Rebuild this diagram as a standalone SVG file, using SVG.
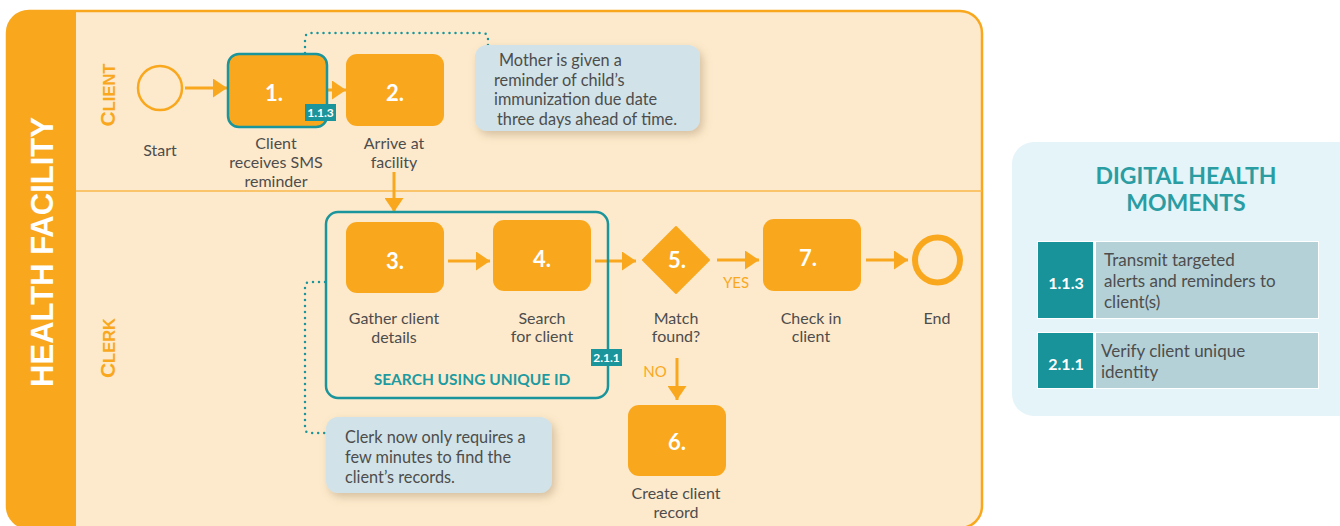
<svg xmlns="http://www.w3.org/2000/svg" width="1340" height="526" viewBox="0 0 1340 526">
<defs>
<style>
.lbl{font-family:Lato,"Open Sans",sans-serif;font-size:16px;fill:#4d4d4d;text-anchor:middle}
.num{font-family:Lato,"Open Sans",sans-serif;font-size:22px;font-weight:bold;fill:#fff;text-anchor:middle}
.box{fill:#f9a81e}
.flow{stroke:#f9a81e;stroke-width:3;fill:none}
.dot{stroke:#1a959c;stroke-width:2.5;fill:none;stroke-dasharray:0 6;stroke-linecap:round}
.note{fill:#d1e3e8}
.ntxt{font-family:Lato,"Open Sans",sans-serif;font-size:16.3px;fill:#4d4d4d}
.badge{fill:#1a959c}
.btxt{font-family:Lato,"Open Sans",sans-serif;font-size:12px;font-weight:bold;fill:#fff;text-anchor:middle}
.lane{font-family:"Liberation Sans",Arial,sans-serif;font-weight:bold;fill:#f9a81e}
.yn{font-family:Lato,"Open Sans",sans-serif;font-size:15px;fill:#f9a81e;text-anchor:middle}
.ptxt{font-family:Lato,"Open Sans",sans-serif;font-size:17px;fill:#4d4d4d}
.ttl{font-family:Lato,"Open Sans",sans-serif;font-weight:bold;font-size:23px;fill:#2a9da3;text-anchor:middle}
</style>
<marker id="ah" markerUnits="userSpaceOnUse" markerWidth="14" markerHeight="19" refX="14" refY="9.5" orient="auto">
<path d="M0,0 L14,9.5 L0,19 Z" fill="#f9a81e"/>
</marker>
<filter id="sh" x="-10%" y="-20%" width="125%" height="150%">
<feDropShadow dx="3" dy="4" stdDeviation="4" flood-color="#8a7250" flood-opacity="0.35"/>
</filter>
</defs>

<g id="frame">
<rect x="7" y="11" width="975" height="517" rx="22" fill="#fdeacc"/>
<path d="M7,33 A22,22 0 0 1 29,11 L76,11 L76,528 L29,528 A22,22 0 0 1 7,506 Z" fill="#f9a81e"/>
<rect x="7" y="11" width="975" height="517" rx="22" fill="none" stroke="#f9a81e" stroke-width="2.5"/>
<line x1="76" y1="191" x2="982" y2="191" stroke="#f9b84a" stroke-width="1.5"/>
<text transform="translate(53,252) rotate(-90)" text-anchor="middle" font-family="'Liberation Sans',Arial,sans-serif" font-weight="bold" font-size="31" fill="#fff">HEALTH FACILITY</text>
<text class="lane" transform="translate(115,95) rotate(-90)" text-anchor="middle"><tspan font-size="21">C</tspan><tspan font-size="16.5">LIENT</tspan></text>
<text class="lane" transform="translate(115,348) rotate(-90)" text-anchor="middle"><tspan font-size="21">C</tspan><tspan font-size="16.5">LERK</tspan></text>
</g>

<g id="panel">
<rect x="1012" y="142" width="350" height="274" rx="22" fill="#e4f4f8"/>
<text class="ttl" x="1186" y="184">DIGITAL HEALTH</text>
<text class="ttl" x="1186" y="211">MOMENTS</text>
<rect x="1037" y="241" width="282" height="78" fill="#fff"/>
<rect x="1038" y="242" width="55" height="76" fill="#179399"/>
<rect x="1096" y="242" width="222" height="76" fill="#b4d1d7"/>
<text x="1066" y="289" text-anchor="middle" font-family="Lato,'Open Sans',sans-serif" font-weight="bold" font-size="16" fill="#fff">1.1.3</text>
<text class="ptxt" x="1104" y="266">Transmit targeted</text>
<text class="ptxt" x="1104" y="287">alerts and reminders to</text>
<text class="ptxt" x="1104" y="308">client(s)</text>
<rect x="1037" y="332" width="282" height="57" fill="#fff"/>
<rect x="1038" y="333" width="55" height="55" fill="#179399"/>
<rect x="1096" y="333" width="222" height="55" fill="#b4d1d7"/>
<text x="1066" y="370" text-anchor="middle" font-family="Lato,'Open Sans',sans-serif" font-weight="bold" font-size="16" fill="#fff">2.1.1</text>
<text class="ptxt" x="1101" y="357">Verify client unique</text>
<text class="ptxt" x="1101" y="378">identity</text>
</g>

<g id="connectors">
<line class="flow" x1="185" y1="88" x2="227" y2="88" marker-end="url(#ah)"/>
<line class="flow" x1="327" y1="90" x2="346" y2="90" marker-end="url(#ah)"/>
<line class="flow" x1="394" y1="172" x2="394" y2="212" marker-end="url(#ah)"/>
<line class="flow" x1="448" y1="261" x2="490" y2="261" marker-end="url(#ah)"/>
<line class="flow" x1="595" y1="261" x2="636" y2="261" marker-end="url(#ah)"/>
<line class="flow" x1="717" y1="260" x2="759" y2="260" marker-end="url(#ah)"/>
<line class="flow" x1="866" y1="260" x2="908" y2="260" marker-end="url(#ah)"/>
<line class="flow" x1="677" y1="358" x2="677" y2="400" marker-end="url(#ah)"/>
<text class="yn" x="736" y="288">YES</text>
<text class="yn" x="655" y="377">NO</text>
<path class="dot" d="M305,53 L305,39 Q305,33 311,33 L482,33 Q488,33 488,39 L488,55"/>
<path class="dot" d="M325,282 L310,282 Q305,282 305,287 L305,428 Q305,433 310,433 L333,433"/>
</g>

<g id="start">
<circle cx="160" cy="88" r="22" fill="none" stroke="#f9a81e" stroke-width="2.5"/>
<text class="lbl" x="160" y="156">Start</text>
</g>

<g id="n1">
<rect x="228" y="54" width="99" height="73" rx="11" class="box" stroke="#1a959c" stroke-width="2.5"/>
<text class="num" x="274" y="101">1.</text>
<rect x="305" y="104" width="31" height="17" class="badge"/>
<text class="btxt" x="320.5" y="117">1.1.3</text>
<text class="lbl" x="276" y="149">Client</text>
<text class="lbl" x="276" y="168">receives SMS</text>
<text class="lbl" x="276" y="187">reminder</text>
</g>

<g id="n2">
<rect x="346" y="54" width="98" height="72" rx="11" class="box"/>
<text class="num" x="395" y="101">2.</text>
<text class="lbl" x="394" y="149">Arrive at</text>
<text class="lbl" x="394" y="168">facility</text>
</g>

<g id="note1">
<rect x="475" y="45" width="225" height="86" rx="12" class="note" filter="url(#sh)"/>
<text class="ntxt" x="499" y="66">Mother is given a</text>
<text class="ntxt" x="494" y="86">reminder of child’s</text>
<text class="ntxt" x="494" y="105">immunization due date</text>
<text class="ntxt" x="497" y="125">three days ahead of time.</text>
</g>

<g id="cluster">
<rect x="326" y="212" width="282" height="186" rx="12" fill="none" stroke="#1a959c" stroke-width="2.5"/>
<text x="472" y="385" text-anchor="middle" font-family="Lato,'Open Sans',sans-serif" font-weight="bold" font-size="15.5" fill="#1e9aa0">SEARCH USING UNIQUE ID</text>
<rect x="591" y="349" width="31" height="17" class="badge"/>
<text class="btxt" x="606.5" y="362">2.1.1</text>
</g>

<g id="n3">
<rect x="346" y="222" width="98" height="71" rx="11" class="box"/>
<text class="num" x="395" y="269">3.</text>
<text class="lbl" x="394" y="324">Gather client</text>
<text class="lbl" x="394" y="343">details</text>
</g>

<g id="n4">
<rect x="493" y="220" width="98" height="71" rx="11" class="box"/>
<text class="num" x="542" y="267">4.</text>
<text class="lbl" x="542" y="324">Search</text>
<text class="lbl" x="542" y="342">for client</text>
</g>

<g id="n5">
<path d="M676,227 L709,260 L676,293 L643,260 Z" class="box" stroke="#f9a81e" stroke-width="2" stroke-linejoin="round"/>
<text class="num" x="677" y="268">5.</text>
<text class="lbl" x="676" y="324">Match</text>
<text class="lbl" x="676" y="342">found?</text>
</g>

<g id="n7">
<rect x="763" y="219" width="98" height="72" rx="11" class="box"/>
<text class="num" x="808" y="266">7.</text>
<text class="lbl" x="811" y="324">Check in</text>
<text class="lbl" x="811" y="342">client</text>
</g>

<g id="end">
<circle cx="937.5" cy="260" r="22.5" fill="none" stroke="#f9a81e" stroke-width="6"/>
<text class="lbl" x="937" y="324">End</text>
</g>

<g id="n6">
<rect x="628" y="405" width="98" height="71" rx="11" class="box"/>
<text class="num" x="677" y="450">6.</text>
<text class="lbl" x="676" y="499">Create client</text>
<text class="lbl" x="676" y="518">record</text>
</g>

<g id="note2">
<rect x="326" y="417" width="226" height="76" rx="12" class="note" filter="url(#sh)"/>
<text class="ntxt" x="345" y="443">Clerk now only requires a</text>
<text class="ntxt" x="345" y="463">few minutes to find the</text>
<text class="ntxt" x="345" y="483">client’s records.</text>
</g>
</svg>
